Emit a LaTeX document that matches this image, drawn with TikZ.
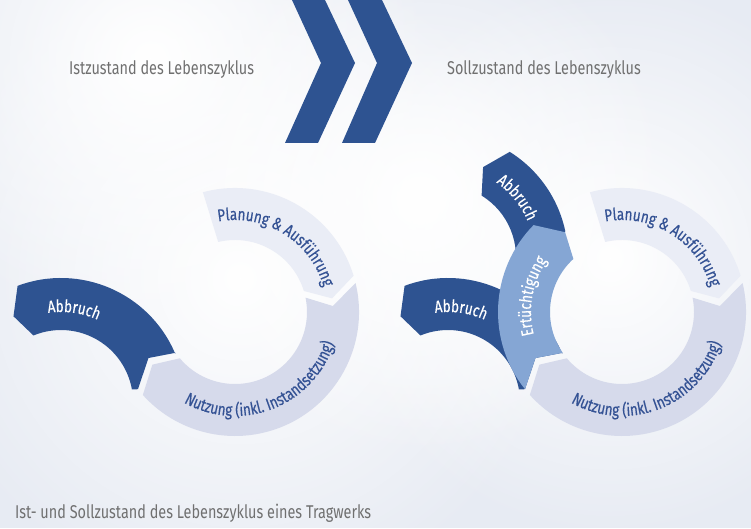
\documentclass[tikz,border=0pt]{standalone}
\usepackage{fontspec}
\setmainfont{Fira Sans}
\newfontfamily\headfont{Fira Sans}[FakeStretch=0.78]
\newfontfamily\ringfont{Fira Sans}[FakeStretch=0.79,FakeBold=0.4]
\usetikzlibrary{calc,decorations.text,fadings}
\tikzfading[name=glowfade, inner color=transparent!0, outer color=transparent!100]
\definecolor{darkblue}{RGB}{46,83,145}
\definecolor{ertblue}{RGB}{133,166,212}
\definecolor{planfill}{RGB}{234,237,246}
\definecolor{nutzfill}{RGB}{214,218,235}
\definecolor{ringtext}{RGB}{52,82,148}
\definecolor{headgray}{RGB}{112,112,112}
\definecolor{bgc}{RGB}{231,235,243}
\def\Ro{124pt}
\def\Ri{72pt}
\def\Rm{98pt}
\newcommand\rf{\ringfont\fontsize{17}{19}\selectfont}
\begin{document}
\begin{tikzpicture}[x=1pt,y=1pt,
  plan/.style={fill=planfill},
  nutz/.style={fill=nutzfill},
  abb/.style={fill=darkblue},
  ert/.style={fill=ertblue},
  chev/.style={fill=darkblue},
  glow/.style={fill=white, path fading=glowfade},
  head/.style={font=\headfont\fontsize{18.5}{20}\selectfont, text=headgray, inner sep=0pt},
  ringlbl/.style={decorate, decoration={text along path, text align=center, text color=#1}},
  ringlbl/.default=ringtext
]
\useasboundingbox (0,0) rectangle (751,528);
% background
\fill[bgc] (0,0) rectangle (751,528);
\fill[glow] (240,250) circle (330);
\fill[glow] (610,270) circle (280);
\fill[glow] (150,470) circle (280);
\fill[glow] (420,330) circle (260);

% chevrons
\fill[chev] (292,528) -- (325,528) -- (355,465) -- (318,385) -- (285,385) -- (321,465) -- cycle;
\fill[chev] (348,528) -- (382,528) -- (412,465) -- (375,385) -- (342,385) -- (377,465) -- cycle;

% centres
\coordinate (R1) at (235,216);
\coordinate (R2) at (622,216);
\coordinate (A1) at ($(R1)+(-174,-90)$);
\coordinate (A2) at ($(R2)+(-174,-90)$);
\coordinate (U2) at ($(R2)+(-178,55)$);

% rings
\foreach \rc in {R1,R2}{
  \fill[plan] ($(\rc)+(105:\Ro)$) arc[start angle=105, end angle=17, radius=\Ro]
     -- ($(\rc)+(8:\Rm)$) -- ($(\rc)+(17:\Ri)$)
     arc[start angle=17, end angle=103.5, radius=\Ri] -- cycle;
  \fill[nutz] ($(\rc)+(13.5:\Ro)$) arc[start angle=13.5, end angle=-138, radius=\Ro]
     -- ($(\rc)+(-147.5:\Rm)$) -- ($(\rc)+(-140:\Ri)$)
     arc[start angle=-140, end angle=11.5, radius=\Ri]
     -- ($(\rc)+(3.5:\Rm)$) -- cycle;
}
% Abbruch (both pictures)
\foreach \rc/\ac in {R1/A1,R2/A2}{
  \fill[abb] ($(\rc)+(218.5:\Ro)$) -- ($(\rc)+(208:\Rm)$) -- ($(\rc)+(214.5:\Ri)$)
     -- ($(\ac)+(23:\Ro)$) arc[start angle=23, end angle=110.5, radius=\Ro]
     -- ($(\ac)+(119:\Rm)$) -- ($(\ac)+(112.5:\Ri)$)
     arc[start angle=112.5, end angle=10, radius=\Ri] -- cycle;
}
% upper Abbruch
\fill[abb] ($(U2)+(12:\Ro)$) arc[start angle=12, end angle=58, radius=\Ro]
   -- ($(U2)+(66.5:\Rm)$) -- ($(U2)+(58.5:\Ri)$)
   arc[start angle=58.5, end angle=-15, radius=\Ri]
   -- ($(R2)+(150:95pt)$) -- cycle;
% Ertuechtigung
\fill[ert] ($(R2)+(218.5:\Ro)$) -- ($(R2)+(208:\Rm)$) -- ($(R2)+(214.5:\Ri)$)
   arc[start angle=214.5, end angle=132.5, radius=\Ri]
   -- ($(R2)+(125.5:\Rm)$) -- ($(R2)+(135.5:\Ro)$)
   arc[start angle=135.5, end angle=218.5, radius=\Ro] -- cycle;

% ring texts
\foreach \rc in {R1,R2}{
  \path[ringlbl, decoration={text={|\rf|Planung {\&} Ausführung}}]
     ($(\rc)+(112:92pt)$) arc[start angle=112, end angle=4, radius=92pt];
  \path[ringlbl, decoration={text={|\rf|Nutzung (inkl. Instandsetzung)}}]
     ($(\rc)+(224:104pt)$) arc[start angle=224, end angle=359, radius=104pt];
}
\foreach \ac in {A1,A2}{
  \path[ringlbl=white, decoration={text={|\rf|Abbruch}}]
     ($(\ac)+(122:90pt)$) arc[start angle=122, end angle=42, radius=90pt];
}
\path[ringlbl=white, decoration={text={|\rf|Abbruch}}]
   ($(U2)+(79:91pt)$) arc[start angle=79, end angle=-1, radius=91pt];
\path[ringlbl=white, decoration={text={|\rf|Ertüchtigung}}]
   ($(R2)+(212:91pt)$) arc[start angle=212, end angle=128, radius=91pt];

% headings
\node[head, anchor=west] (ist) at (69,458) {Istzustand des Lebenszyklus};
\node[head, anchor=west] (soll) at (447,458) {Sollzustand des Lebenszyklus};
\node[head, anchor=west] (cap) at (15,15) {Ist- und Sollzustand des Lebenszyklus eines Tragwerks};
\end{tikzpicture}
\end{document}
